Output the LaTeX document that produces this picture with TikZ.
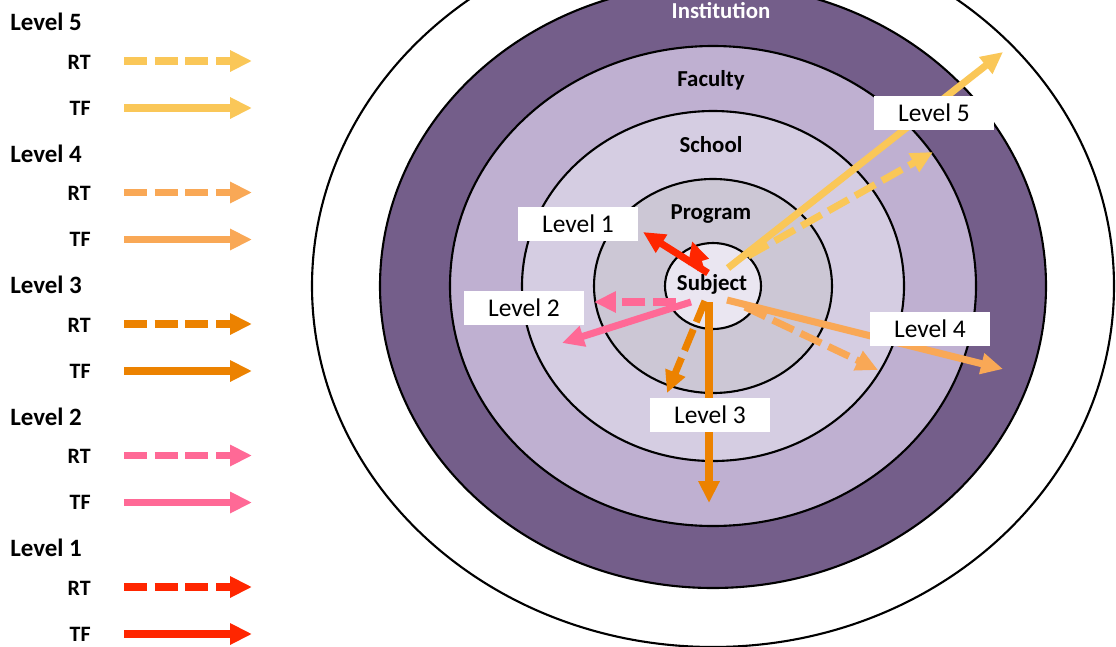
\documentclass[tikz,border=0pt]{standalone}
\usepackage{fontspec}
\setmainfont{Carlito}
\usetikzlibrary{arrows.meta}

\definecolor{cInst}{RGB}{116,94,138}
\definecolor{cFac}{RGB}{191,176,209}
\definecolor{cSch}{RGB}{213,205,226}
\definecolor{cProg}{RGB}{204,199,213}
\definecolor{cSubj}{RGB}{234,230,241}
\definecolor{Lfive}{RGB}{250,199,88}
\definecolor{Lfour}{RGB}{249,168,86}
\definecolor{Lthree}{RGB}{236,130,0}
\definecolor{Ltwo}{RGB}{255,105,150}
\definecolor{Lone}{RGB}{255,38,0}

\tikzstyle{ring}=[draw=black,line width=1.2pt]
\tikzstyle{TFline}=[line width=4pt,-{Triangle[length=12.5pt,width=11.5pt]}]
\tikzstyle{RTline}=[TFline,dash pattern=on 13pt off 4.5pt]
\tikzstyle{LV}=[fill=white,minimum width=2.4cm,minimum height=0.68cm,inner sep=0pt,font=\fontsize{14.5}{17}\selectfont]
\tikzstyle{H}=[font=\bfseries\fontsize{13}{15}\selectfont]
\tikzstyle{K}=[inner sep=0pt,font=\bfseries\fontsize{12.5}{14}\selectfont,anchor=east]

\begin{document}
\begin{tikzpicture}[x=0.02cm,y=-0.02cm]
    \useasboundingbox (0,0) rectangle (1116,646);

    % rings, outside in
    \coordinate (C) at (713,286);
    \draw[ring,fill=white] (C) ellipse [x radius=401,y radius=361];
    \draw[ring,fill=cInst] (C) ellipse [x radius=333,y radius=302];
    \draw[ring,fill=cFac]  (C) ellipse [x radius=263,y radius=240];
    \draw[ring,fill=cSch]  (C) ellipse [x radius=191,y radius=175];
    \draw[ring,fill=cProg] (C) ellipse [x radius=119,y radius=107];
    \draw[ring,fill=cSubj] (C) ellipse [x radius=48,y radius=43];

    \node[H,white] (inst) at (721,11) {Institution};
    \node[H] (fac)  at (711,80)  {Faculty};
    \node[H] (sch)  at (711,145) {School};
    \node[H] (prog) at (711,214) {Program};
    \node[H] (subj) at (712,284) {Subject};

    % legend
    \foreach \n/\c [count=\i from 0] in {5/Lfive,4/Lfour,3/Lthree,2/Ltwo,1/Lone} {
        \pgfmathsetmacro\y{22+131.5*\i}
        \node[anchor=west,inner sep=0pt,font=\bfseries\fontsize{14.2}{16}\selectfont] (lev\n) at (10,\y) {Level \n};
        \node[K] (rt\n) at (91,\y+40) {RT};
        \node[K] (tf\n) at (91,\y+86) {TF};
        \draw[RTline,\c] (rt\n.east) ++(33,-1) -- ++(128,0);
        \draw[TFline,\c] (tf\n.east) ++(33,0) -- ++(128,0);
    }

    % arrows out of the subject
    \coordinate (tf1a) at (708,273); \coordinate (tf1b) at (643,232);
    \coordinate (rt1a) at (701,270); \coordinate (rt1b) at (692,241);
    \coordinate (tf2a) at (691,302); \coordinate (tf2b) at (562,343);
    \coordinate (rt2a) at (676,302); \coordinate (rt2b) at (594,302);
    \coordinate (tf3a) at (709,302); \coordinate (tf3b) at (709,503);
    \coordinate (rt3a) at (705,301); \coordinate (rt3b) at (667,393);
    \coordinate (tf4a) at (727,300); \coordinate (tf4b) at (1003,369);
    \coordinate (rt4a) at (745,307); \coordinate (rt4b) at (878,370);
    \coordinate (tf5a) at (728,268); \coordinate (tf5b) at (1003,52);
    \coordinate (rt5a) at (748,256); \coordinate (rt5b) at (933,152);

    \foreach \n/\c in {1/Lone,2/Ltwo,3/Lthree,4/Lfour,5/Lfive} {
        \draw[RTline,\c] (rt\n a) -- (rt\n b);
        \draw[TFline,\c] (tf\n a) -- (tf\n b);
    }

    \node[LV] (b1) at (578,224) {Level 1};
    \node[LV] (b2) at (524,308) {Level 2};
    \node[LV] (b3) at (710,415) {Level 3};
    \node[LV] (b4) at (930,329) {Level 4};
    \node[LV] (b5) at (934,113) {Level 5};

\end{tikzpicture}
\end{document}
